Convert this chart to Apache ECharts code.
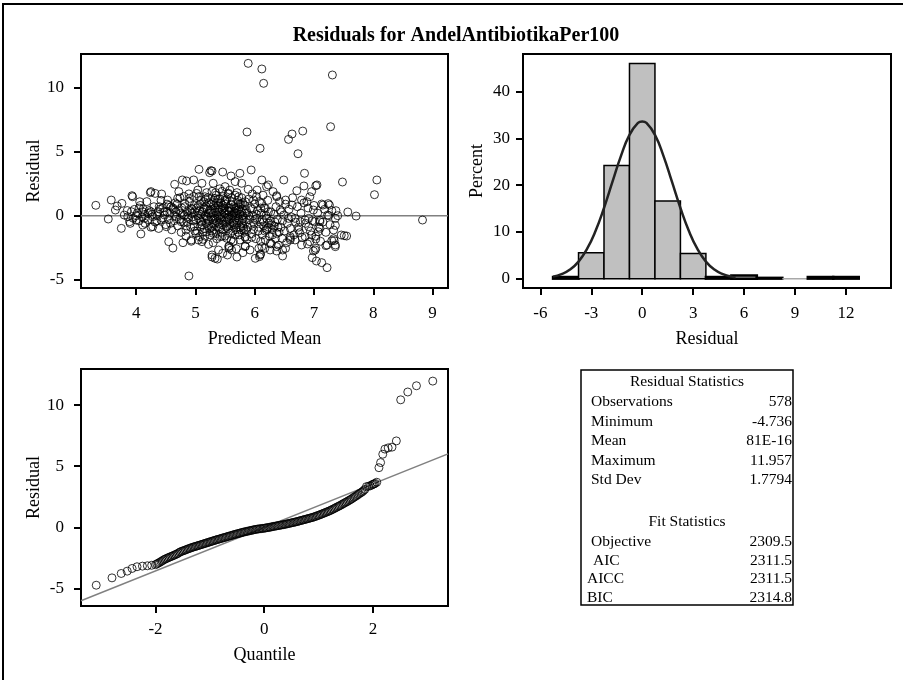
<!DOCTYPE html>
<html><head><meta charset="utf-8">
<script src="https://cdn.jsdelivr.net/npm/echarts@6/dist/echarts.min.js"></script>
<style>html,body{margin:0;padding:0;background:#fff}#c{width:903px;height:680px}</style>
</head><body><div id="c"></div>
<script>
// ---------- DATA ----------
const titleText = 'Residuals for AndelAntibiotikaPer100';

// Residual vs predicted mean: [predicted, residual]
const fitPoints = [
[5.89,11.9],[6.12,11.46],[6.15,10.34],[7.31,10.99],[5.87,6.54],[7.28,6.95],[6.09,5.26],[6.57,5.96],[6.63,6.38],[6.81,6.61],[6.73,4.84],[4.89,-4.71],
[3.32,0.81],[3.53,-0.26],[3.58,1.22],[8.83,-0.34],[8.02,1.64],[8.06,2.79],[7.71,-0.03],[7.57,0.29],[7.48,2.63],
[7.22,-4.06],[7.13,-3.67],[7.04,-3.54],[6.97,-3.28],[6.47,-3.15],[6.08,-3.2],[6.1,-3.0],[5.28,-3.23],[5.37,-3.39],[5.46,-2.94],[5.54,-3.07],[5.70,-3.23],[5.80,-2.89],
[4.62,-2.53],[4.55,-2.03],[4.79,-2.11],[4.93,-2.0],[4.08,-1.43],[3.75,-0.99],[3.93,1.56],[3.76,0.96],[3.65,0.44],
[5.06,3.62],[5.28,3.49],[5.24,3.36],[5.46,3.41],[5.94,3.57],[5.75,3.31],[5.60,3.10],[6.12,2.79],[6.49,2.79],[6.84,3.31],[7.03,2.34],[6.83,2.32],[6.71,1.95],
[4.97,2.79],[4.85,2.71],[4.78,2.79],[4.65,2.45],[4.72,1.88],[4.24,1.8],[4.32,1.74],[4.43,1.69],[6.23,2.4],[6.31,1.88],[6.37,1.56],
[7.15,0.83],[7.24,0.94],[7.26,0.83],[7.37,0.39],[7.25,0],[7.36,-0.21],[7.36,-0.76],[7.10,-0.47],[7.51,-1.56],[7.55,-1.59],[7.46,-1.51],[7.36,-2.29],[7.30,-1.95],[7.20,-2.34],[7.03,-1.82],[7.03,-2.55],[6.99,-2.76],[6.89,-2.21],[6.74,-1.12],[6.76,-1.33],[6.60,-1.77],[6.6,-1.9],[6.52,-2.55],[6.37,-2.76],[6.26,-2.68],[6.17,-2.55],[6.07,-2.55],[5.87,-1.85],[5.84,-2.37],[5.57,-2.55],[5.57,-2.37],[5.69,-2.58],[5.22,-2.24],[5.30,-2.11],[5.13,-1.85],[5.05,-1.9],
[3.68,0.75],[3.80,0.05],[3.89,-0.47],[3.86,-0.08],[3.92,0.31],[3.94,1.48],[3.97,0.49],[4.0,-0.34],[4.06,1.09],[4.11,0.31],[4.14,-0.21],[4.11,-0.73],[4.2,0.18],[4.25,1.88],[4.28,-0.86],[4.28,-0.08],[4.37,0.31],[4.39,0.70],[4.42,-0.34],[4.48,0.05],[4.51,-0.86],[4.53,1.22],[4.59,0.70],[4.67,0.31],[4.70,1.35],[4.76,-0.47],[4.82,0.96],[4.84,-1.12],[4.87,-0.08],[4.9,1.35],[4.93,-1.9],[4.93,0.57],[4.98,-0.86],[5.01,-0.34],[5.04,2.0],[5.07,-1.64],[5.01,-1.38],
[5.26,3.52],[5.11,2.53],[5.3,2.53],[5.5,2.27],[5.67,2.66],[5.78,2.53],[5.89,2.06],[6.04,2.0],[6.2,2.27],[6.37,1.48],[6.52,1.22],[6.63,0.83],[6.79,1.22],[6.88,1.09],[5.02,1.74],[5.16,1.48],[5.33,1.35],[5.56,1.74],[5.73,1.48],[5.84,1.09],[5.98,1.22],[6.12,0.96],[6.18,0.57],[6.23,0.31],[6.43,0.44],[6.49,0.05],[6.57,-0.21],[6.68,-0.21],[6.77,-0.47],[6.85,-0.34],[6.15,-0.47],[6.2,-1.12],[6.29,-0.73],[6.37,-1.38],[6.46,-1.77],[6.6,-1.64],[6.68,-1.9],[6.79,-2.29],[6.85,-1.64],[6.47,-2.68],[6.37,-2.42],[6.26,-2.16],[6.12,-2.42],[6.09,-3.07],[6.01,-3.33],[5.95,-1.69],[5.92,-2.68],[5.84,-2.42],[5.61,-2.68],[5.56,-2.42],[5.39,-2.68],[5.28,-3.07],[5.33,-3.33],[5.11,-2.03],[5.75,-1.9],[5.84,-1.64],[5.98,-1.07],[5.81,-0.99],[5.67,-1.51],[5.53,-1.77],[5.42,-1.64],[5.3,-1.38],[5.19,-1.25],[5.08,-0.86],
[7.13,0.91],[7.05,2.4],[6.96,1.88],[6.93,1.48],[6.99,0.44],[6.91,-0.21],[7.1,-0.34],[7.23,0.05],[7.33,-1.12],[7.34,-1.95],[7.22,-2.29],[7.36,-2.42],[7.02,-2.68],[7.07,-1.25],[6.96,-1.51],[6.93,-2.03],[7.1,-0.99],[6.91,-0.86],[7.01,-0.47],
[5.02,0.6],[5.05,-0.2],[5.08,0.9],[5.1,-0.5],[5.12,0.3],[5.14,1.1],[5.15,-1.0],[5.17,0.0],[5.18,0.7],[5.2,-0.3],[5.21,1.4],[5.22,-0.8],[5.24,0.4],[5.25,-1.5],[5.26,0.9],[5.27,-0.1],[5.28,1.9],[5.29,-0.6],[5.3,0.2],[5.31,1.2],[5.32,-1.1],[5.33,0.6],[5.34,-0.4],[5.35,1.6],[5.36,-1.8],[5.37,0.0],[5.38,0.8],[5.39,-0.9],[5.4,0.3],[5.41,2.1],[5.42,-0.2],[5.43,1.0],[5.44,-1.3],[5.45,0.5],[5.46,-0.7],[5.47,1.5],[5.48,-0.1],[5.49,0.2],[5.5,-1.6],[5.51,0.9],[5.52,-0.5],[5.53,1.3],[5.54,0.1],[5.55,-1.0],[5.56,0.6],[5.57,-0.3],[5.58,2.0],[5.59,-1.4],[5.6,0.4],[5.61,-0.8],[5.62,1.1],[5.63,0.0],[5.64,-2.0],[5.65,0.7],[5.66,-0.4],[5.67,1.6],[5.68,-1.1],[5.69,0.2],[5.7,-0.6],[5.71,1.2],[5.72,-0.2],[5.73,0.5],[5.74,-1.5],[5.75,0.9],[5.76,-0.9],[5.77,0.3],[5.78,1.4],[5.79,-0.3],[5.8,0.0],[5.82,-1.2],[5.83,0.8],[5.85,-0.5],
[5.03,-1.2],[5.06,1.5],[5.09,0.1],[5.11,-0.7],[5.13,0.5],[5.16,-1.6],[5.19,1.8],[5.23,-0.4],[5.26,0.2],[5.28,-1.2],[5.31,0.8],[5.33,-0.2],[5.35,-1.4],[5.38,1.3],[5.4,-0.6],[5.42,0.6],[5.45,1.9],[5.47,-1.1],[5.5,0.4],[5.52,-0.9],[5.55,1.7],[5.57,0.3],[5.6,-1.9],[5.62,0.0],[5.65,-0.7],[5.68,0.6],[5.7,1.8],[5.72,-1.3],[5.75,0.1],[5.78,-0.6],[5.8,1.0],[5.84,-1.7],
[5.04,0.0],[5.07,0.4],[5.1,1.2],[5.14,-0.2],[5.18,-0.6],[5.2,0.5],[5.23,1.0],[5.27,-0.9],[5.3,-0.3],[5.34,0.3],[5.36,1.0],[5.39,-0.1],[5.41,-1.0],[5.44,0.1],[5.46,0.8],[5.49,-0.4],[5.51,1.1],[5.54,-0.8],[5.56,-0.1],[5.59,0.6],[5.61,1.4],[5.64,-0.5],[5.66,0.3],[5.69,-0.9],[5.71,0.0],[5.74,0.7],[5.77,-1.1],[5.79,0.5],[5.81,-0.2],[5.86,0.4],
[5.87,0.2],[5.88,-0.9],[5.9,1.3],[5.91,-0.3],[5.93,0.6],[5.95,-1.4],[5.96,1.7],[5.97,0.0],[5.99,-0.6],[6.0,0.9],[6.02,-1.8],[6.03,1.5],[6.04,-0.2],[6.05,0.4],[6.06,-1.2],[6.08,1.1],[6.09,-0.5],[6.1,-2.0],[6.11,0.2],[6.13,-1.5],[6.14,1.6],[6.15,-0.8],[6.16,0.6],[6.18,-1.9],[6.19,0.0],[6.21,-1.0],[6.22,1.2],[6.24,-0.6],[6.25,-1.6],[6.27,0.3],[6.28,-2.2],[6.3,-1.1],[6.32,0.1],[6.33,-0.8],[6.35,-1.8],[6.36,0.7],[6.38,-0.3],[6.4,-2.3],[6.41,-1.3],[6.42,1.1],[6.44,-0.9],[6.45,0.3],[6.47,-0.4],[6.5,-1.2],[6.52,0.9],[6.54,-2.1],[6.55,-0.6],[6.58,0.5],[6.6,-1.0],[6.62,-0.1],[6.64,1.4],[6.66,-1.5],[6.69,-0.5],[6.72,0.7],[6.74,-0.9],[6.78,0.2],[6.8,-1.7],[6.83,1.0],[6.86,-0.6],[6.9,0.6],[6.94,-1.2],[6.97,-0.4],[7.0,0.8],[7.03,-1.6],[7.06,0.2],[7.08,-0.9],[7.11,-2.0],[7.15,-0.5],[7.18,0.5],[7.2,-1.3],[7.27,-0.7],[7.3,0.4],[7.33,-1.8],[7.4,0.0],
[4.02,0.2],[4.05,-0.4],[4.07,0.8],[4.1,-0.1],[4.12,0.5],[4.15,-0.6],[4.18,1.1],[4.2,-0.3],[4.22,0.4],[4.25,-0.9],[4.27,0.1],[4.3,0.7],[4.32,-0.5],[4.35,0.0],[4.38,-1.0],[4.4,0.5],[4.42,1.2],[4.45,-0.2],[4.47,0.3],[4.5,-0.7],[4.52,0.9],[4.55,-0.3],[4.57,0.2],[4.6,-1.1],[4.62,0.6],[4.64,-0.4],[4.66,1.0],[4.68,-0.1],[4.7,-0.8],[4.72,0.4],[4.74,1.4],[4.76,-1.3],[4.78,0.1],[4.8,-0.5],[4.82,0.7],[4.84,-1.6],[4.86,0.3],[4.88,-0.2],[4.9,1.1],[4.92,-0.9],[4.94,0.2],[4.96,-0.4],[4.98,0.8],[4.99,-1.2],
[4.55,0.8],[4.65,0.0],[4.75,0.2],[4.85,-0.8],[4.95,0.5],[4.45,0.6],[4.35,-0.4],[4.25,0.3],[4.15,0.1],[4.05,0.6],[3.95,-0.2],[3.85,0.4],[3.9,-0.6],[4.0,0.0],
[5.05,0.8],[5.09,-0.4],[5.12,-1.3],[5.15,0.6],[5.17,1.3],[5.19,-0.1],[5.22,0.2],[5.24,-1.0],[5.27,0.5],[5.29,1.0],[5.32,-0.7],[5.34,1.8],[5.37,-0.5],[5.39,0.5],[5.41,1.3],[5.43,-0.3],[5.45,-1.6],[5.48,0.6],[5.5,1.2],[5.53,-0.2],[5.55,0.4],[5.58,-0.6],[5.6,0.9],[5.63,-1.2],[5.65,0.2],[5.67,-0.2],[5.7,0.4],[5.72,1.0],[5.74,-0.4],[5.77,0.9],[5.8,-0.8],[5.83,0.2],[5.86,-1.1],[5.9,0.0],[5.93,-0.7],[5.96,0.5],[6.0,-0.3],[6.03,0.1],[6.07,-0.9],[6.1,0.6],[6.13,-0.3],[6.17,-1.2],[6.2,-0.2],[6.23,-0.9],[6.27,-0.4],[6.3,-1.5],[6.34,-0.5],[6.39,-0.9],[4.52,0.3],[4.58,-0.6],[4.63,0.5],[4.69,0.9],[4.73,-0.3],[4.77,0.6],[4.81,0.0],[4.86,-0.5],[4.91,0.4],[4.95,-0.1],[4.99,0.3],[4.97,1.5],[4.89,1.7],[4.81,1.5]
];

// Histogram of residuals (percent per bin)
const binStart = [-5.25,-3.75,-2.25,-0.75,0.75,2.25,3.75,5.25,6.75,8.25,9.75,11.25];
const binEnd   = [-3.75,-2.25,-0.75,0.75,2.25,3.75,5.25,6.75,8.25,9.75,11.25,12.75];
const binPct   = [0.35,5.54,24.22,46.02,16.61,5.36,0.35,0.69,0.17,0,0.35,0.35];

// Normal density curve (percent scale)
const curveX = [-5.25,-4.75,-4.25,-3.75,-3.25,-2.75,-2.25,-1.75,-1.25,-0.75,-0.25,0,0.25,0.75,1.25,1.75,2.25,2.75,3.25,3.75,4.25,4.75,5.25,5.5];
const curveY = [0.43,0.95,1.94,3.65,6.35,10.19,15.12,20.74,26.28,30.77,33.30,33.63,33.30,30.77,26.28,20.74,15.12,10.19,6.35,3.65,1.94,0.95,0.43,0.28];

// Q-Q plot: theoretical quantile and ordered residual
const qqX = [-3.09,-2.80,-2.63,-2.52,-2.43,-2.34,-2.24,-2.15,-2.07,
-2.00,-1.95,-1.90,-1.85,-1.80,-1.75,-1.70,-1.65,-1.60,-1.55,-1.50,-1.45,-1.40,-1.35,-1.30,-1.25,-1.20,-1.15,-1.10,-1.05,-1.00,-0.95,-0.90,-0.85,-0.80,-0.75,-0.70,-0.65,-0.60,-0.55,-0.50,-0.45,-0.40,-0.35,-0.30,-0.25,-0.20,-0.15,-0.10,-0.05,0.00,0.05,0.10,0.15,0.20,0.25,0.30,0.35,0.40,0.45,0.50,0.55,0.60,0.65,0.70,0.75,0.80,0.85,0.90,0.95,1.00,1.05,1.10,1.15,1.20,1.25,1.30,1.35,1.40,1.45,1.50,1.55,1.60,1.65,1.70,1.75,1.80,1.85,1.88,1.92,1.95,1.98,2.00,2.02,2.04,2.07,
2.11,2.14,2.18,2.22,2.28,2.35,2.43,2.51,2.64,2.80,3.10];
const qqY = [-4.73,-4.13,-3.77,-3.58,-3.36,-3.22,-3.17,-3.14,-3.10,
-3.05,-2.93,-2.80,-2.66,-2.55,-2.45,-2.36,-2.26,-2.16,-2.02,-1.93,-1.85,-1.76,-1.68,-1.60,-1.54,-1.47,-1.40,-1.33,-1.26,-1.19,-1.12,-1.05,-0.98,-0.92,-0.85,-0.79,-0.72,-0.66,-0.59,-0.53,-0.47,-0.41,-0.36,-0.31,-0.26,-0.21,-0.16,-0.13,-0.10,-0.07,-0.03,0.01,0.06,0.10,0.14,0.18,0.22,0.27,0.32,0.37,0.42,0.47,0.53,0.59,0.65,0.71,0.77,0.83,0.91,0.99,1.08,1.17,1.26,1.35,1.46,1.57,1.69,1.80,1.93,2.05,2.18,2.31,2.46,2.60,2.76,2.90,3.10,3.33,3.36,3.40,3.47,3.52,3.55,3.60,3.69,
4.88,5.30,5.98,6.40,6.50,6.56,7.07,10.43,11.07,11.58,11.96];
// additional read points in the dense middle band
const qqX2 = [-1.975,-1.925,-1.875,-1.825,-1.775,-1.725,-1.675,-1.625,-1.575,-1.525,-1.475,-1.425,-1.375,-1.325,-1.275,-1.225,-1.175,-1.125,-1.075,-1.025,-0.975,-0.925,-0.875,-0.825,-0.775,-0.725,-0.675,-0.625,-0.575,-0.525,-0.475,-0.425,-0.375,-0.325,-0.275,-0.225,-0.175,-0.125,-0.075,-0.025,0.025,0.075,0.125,0.175,0.225,0.275,0.325,0.375,0.425,0.475,0.525,0.575,0.625,0.675,0.725,0.775,0.825,0.875,0.925,0.975,1.025,1.075,1.125,1.175,1.225,1.275,1.325,1.375,1.425,1.475,1.525,1.575,1.625,1.675,1.725,1.775,1.825];
const qqY2 = [-2.99,-2.87,-2.73,-2.60,-2.50,-2.40,-2.31,-2.21,-2.09,-1.97,-1.89,-1.80,-1.72,-1.64,-1.57,-1.50,-1.43,-1.36,-1.29,-1.22,-1.15,-1.08,-1.01,-0.95,-0.88,-0.82,-0.75,-0.69,-0.62,-0.56,-0.50,-0.44,-0.38,-0.33,-0.28,-0.23,-0.18,-0.14,-0.11,-0.08,-0.05,-0.01,0.03,0.08,0.12,0.16,0.20,0.24,0.29,0.34,0.39,0.44,0.50,0.56,0.62,0.68,0.74,0.80,0.87,0.95,1.03,1.12,1.21,1.30,1.40,1.51,1.63,1.74,1.86,1.99,2.11,2.24,2.38,2.53,2.68,2.83,3.00];
const qqRefLine = [[-3.37,-6.0],[3.38,6.01]];

// Tick labels
const scatXTicks = [4,5,6,7,8,9];
const scatYTicks = [-5,0,5,10];
const histXTicks = [-6,-3,0,3,6,9,12];
const histYTicks = [0,10,20,30,40];
const qqXTicks = [-2,0,2];
const qqYTicks = [-5,0,5,10];

// Statistics tables
const residStatLabels = ['Observations','Minimum','Mean','Maximum','Std Dev'];
const residStatValues = ['578','-4.736','81E-16','11.957','1.7794'];
const fitStatLabels = ['Objective','AIC','AICC','BIC'];
const fitStatValues = ['2309.5','2311.5','2311.5','2314.8'];

// ---------- CHART ----------
const FONT = 'Liberation Serif';
const chart = echarts.init(document.getElementById('c'), null, {renderer:'canvas'});

function xAx(grid, min, max, ticks, name, margin, nameGap) {
  return {
    type:'value', gridIndex:grid, min:min, max:max, position:'bottom',
    name:name, nameLocation:'middle', nameGap:nameGap,
    nameTextStyle:{fontFamily:FONT, fontSize:18, color:'#000'},
    axisLine:{show:false, onZero:false},
    axisTick:{show:true, inside:false, length:7, customValues:ticks, lineStyle:{color:'#000', width:2}},
    axisLabel:{customValues:ticks, fontFamily:FONT, fontSize:17, color:'#000', margin:margin},
    splitLine:{show:false}
  };
}
function yAx(grid, min, max, ticks, name, margin, nameGap) {
  return {
    type:'value', gridIndex:grid, min:min, max:max, position:'left',
    name:name, nameLocation:'middle', nameGap:nameGap, nameRotate:90,
    nameTextStyle:{fontFamily:FONT, fontSize:18, color:'#000'},
    axisLine:{show:false, onZero:false},
    axisTick:{show:true, inside:false, length:7, customValues:ticks, lineStyle:{color:'#000', width:2}},
    axisLabel:{customValues:ticks, fontFamily:FONT, fontSize:17, color:'#000', margin:margin},
    splitLine:{show:false}
  };
}

const scatXMin = 3.07, scatXMax = 9.26;
const gridStyle = {show:true, borderColor:'#000', borderWidth:2, backgroundColor:'rgba(0,0,0,0)'};

// Table graphics
const TF = '15.5px "Liberation Serif"';
const tbl = [];
tbl.push({type:'rect', shape:{x:581, y:370, width:212, height:235}, style:{fill:'none', stroke:'#000', lineWidth:1.5}});
tbl.push({type:'text', x:687, y:382, style:{text:'Residual Statistics', font:TF, fill:'#000', align:'center', verticalAlign:'middle'}});
residStatLabels.forEach((l,i)=>{
  tbl.push({type:'text', x:591, y:402+i*19.6, style:{text:l, font:TF, fill:'#000', align:'left', verticalAlign:'middle'}});
  tbl.push({type:'text', x:792, y:402+i*19.6, style:{text:residStatValues[i], font:TF, fill:'#000', align:'right', verticalAlign:'middle'}});
});
tbl.push({type:'text', x:687, y:522, style:{text:'Fit Statistics', font:TF, fill:'#000', align:'center', verticalAlign:'middle'}});
const fitLabelX = [591,593,587,587];
fitStatLabels.forEach((l,i)=>{
  tbl.push({type:'text', x:fitLabelX[i], y:542+i*18.6, style:{text:l, font:TF, fill:'#000', align:'left', verticalAlign:'middle'}});
  tbl.push({type:'text', x:792, y:542+i*18.6, style:{text:fitStatValues[i], font:TF, fill:'#000', align:'right', verticalAlign:'middle'}});
});

const circleStyle = {color:'rgba(0,0,0,0)', borderColor:'#000', borderWidth:1};

const option = {
  animation:false,
  backgroundColor:'#fff',
  title:{text:titleText, left:451, top:21, textAlign:'center',
    textStyle:{fontFamily:FONT, fontSize:20, fontWeight:'bold', color:'#000'}},
  grid:[
    Object.assign({left:81, top:54, width:367, height:234}, gridStyle),
    Object.assign({left:523, top:54, width:368, height:234}, gridStyle),
    Object.assign({left:81, top:369, width:367, height:237}, gridStyle)
  ],
  xAxis:[
    xAx(0, scatXMin, scatXMax, scatXTicks, 'Predicted Mean', 17, 42),
    xAx(1, -7.02, 14.65, histXTicks, 'Residual', 17, 42),
    xAx(2, -3.37, 3.38, qqXTicks, 'Quantile', 15, 40)
  ],
  yAxis:[
    yAx(0, -5.65, 12.63, scatYTicks, 'Residual', 17, 36),
    yAx(1, -2.0, 48.06, histYTicks, 'Percent', 13, 37),
    yAx(2, -6.43, 12.95, qqYTicks, 'Residual', 17, 36)
  ],
  series:[
    {type:'line', xAxisIndex:0, yAxisIndex:0, data:[[scatXMin,0],[scatXMax,0]], symbol:'none',
      lineStyle:{color:'#808080', width:1.5}, silent:true, z:1},
    {type:'scatter', xAxisIndex:0, yAxisIndex:0, data:fitPoints, symbol:'circle', symbolSize:8,
      itemStyle:circleStyle, silent:true, z:2},
    {type:'custom', xAxisIndex:1, yAxisIndex:1,
      data: binStart.map((s,i)=>[s, binEnd[i], binPct[i]]),
      renderItem:function(params, api){
        const p0 = api.coord([api.value(0), api.value(2)]);
        const p1 = api.coord([api.value(1), 0]);
        const h = api.value(2);
        return {type:'rect', shape:{x:p0[0], y:p0[1], width:p1[0]-p0[0], height:p1[1]-p0[1]},
          style:{fill:'#c0c0c0', stroke: h>0 ? '#000' : '#a8a8a8', lineWidth: h>0 && h<1 ? 2.5 : 1.5}};
      }, silent:true, z:2},
    {type:'line', xAxisIndex:1, yAxisIndex:1, data: curveX.map((x,i)=>[x, curveY[i]]), smooth:true, symbol:'none',
      lineStyle:{color:'#222', width:2.5}, silent:true, z:3},
    {type:'line', xAxisIndex:2, yAxisIndex:2, data:qqRefLine, symbol:'none',
      lineStyle:{color:'#808080', width:1.5}, silent:true, z:1},
    {type:'scatter', xAxisIndex:2, yAxisIndex:2,
      data: qqX.map((x,i)=>[x, qqY[i]]).concat(qqX2.map((x,i)=>[x, qqY2[i]])),
      symbol:'circle', symbolSize:8, itemStyle:circleStyle, silent:true, z:2}
  ],
  graphic:[
    {type:'rect', shape:{x:3, y:4, width:905, height:700}, style:{fill:'none', stroke:'#000', lineWidth:2}, silent:true},
    {type:'group', children:tbl}
  ]
};
chart.setOption(option);
</script>
</body></html>
